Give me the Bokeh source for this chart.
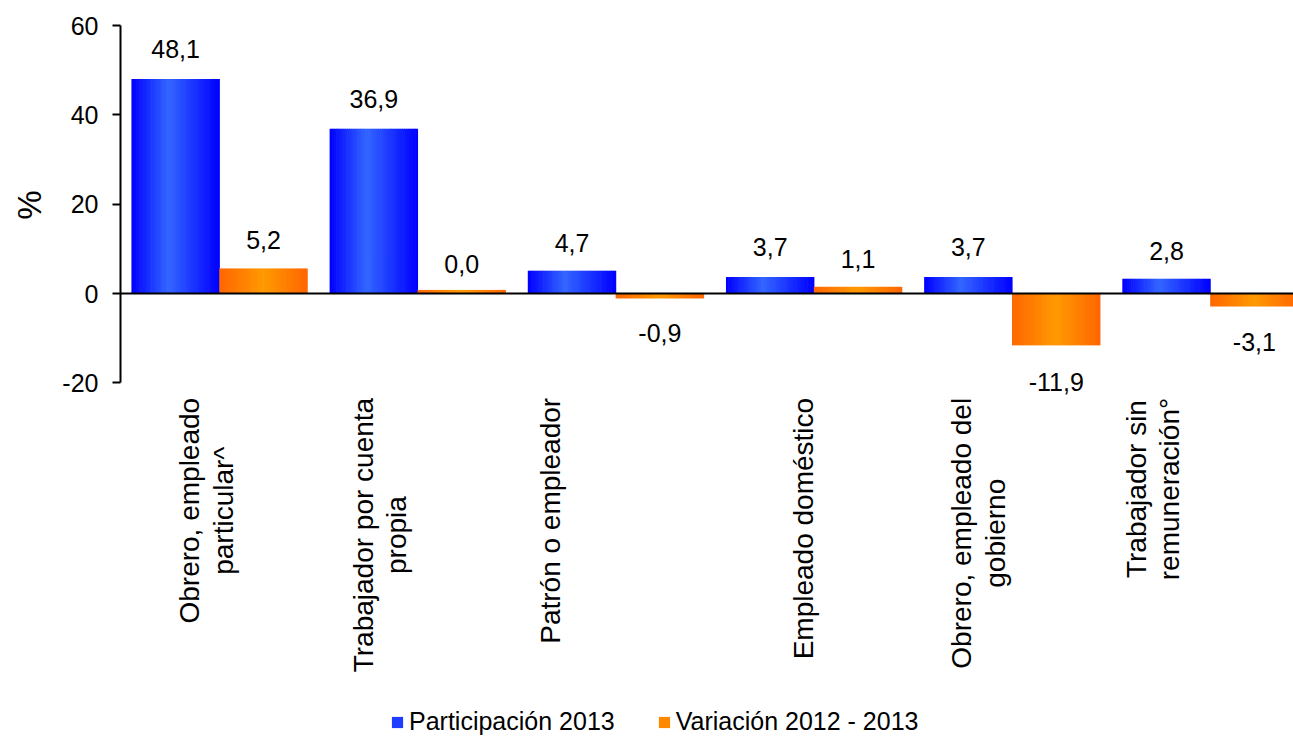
import math
from bokeh.plotting import figure
from bokeh.models import (ColumnDataSource, Range1d, FixedTicker, Span, LabelSet,
                          Legend, LegendItem, Title)
from bokeh.embed import file_html
from bokeh.resources import INLINE
from bokeh.core.properties import value

# ---------------- data ----------------
categories = [
    "Obrero, empleado\nparticular^",
    "Trabajador por cuenta\npropia",
    "Patrón o empleador",
    "Empleado doméstico",
    "Obrero, empleado del\ngobierno",
    "Trabajador sin\nremuneración°",
]
series_names = ["Participación 2013", "Variación 2012 - 2013"]
# values printed as data labels
participacion = [48.1, 36.9, 4.7, 3.7, 3.7, 2.8]
variacion = [5.2, 0.0, -0.9, 1.1, -11.9, -3.1]
# bar heights as drawn in the picture
participacion_bar = [48.0, 36.9, 5.1, 3.7, 3.7, 3.3]
variacion_bar = [5.6, 0.8, -1.1, 1.5, -11.6, -2.9]
y_ticks = [-20, 0, 20, 40, 60]
y_tick_labels = ["-20", "0", "20", "40", "60"]
y_axis_bounds = (-20, 60)
y_axis_title = "%"

# ---------------- layout / style ----------------
FONT = "Liberation Sans"
W, H = 1293, 737
BAR_W = 0.443
OFFS = [-0.2217, 0.2217]
X_END = 5.419
Y_START = -99.4          # frame extends below the axis for the category texts
LABEL_SHIFT = [-0.065, -0.19, -0.33, -0.054, -0.17, -0.29]
NSTRIP = 40


def fmt(v):
    return f"{v:.1f}".replace(".", ",")


def strip_source(vals, off, c_edge, c_peak, peak):
    xs, tops, cols = [], [], []
    for i, v in enumerate(vals):
        for k in range(NSTRIP):
            t = (k + 0.5) / NSTRIP
            half = peak if t < peak else 1 - peak
            f = max(0.0, 1 - abs(t - peak) / half)
            col = tuple(int(round(e + (p - e) * f)) for e, p in zip(c_edge, c_peak))
            xs.append(i + off - BAR_W / 2 + (k + 0.5) * BAR_W / NSTRIP)
            tops.append(v)
            cols.append("#%02x%02x%02x" % col)
    return ColumnDataSource(dict(x=xs, top=tops, color=cols))


p = figure(width=W, height=H, output_backend="svg", toolbar_location=None,
           x_range=Range1d(-0.5, X_END), y_range=Range1d(Y_START, 60),
           x_axis_location=None,
           min_border_left=118, min_border_right=0, min_border_top=25,
           min_border_bottom=0)
p.outline_line_color = None
p.xgrid.visible = False
p.ygrid.visible = False
p.background_fill_color = "white"
p.border_fill_color = "white"

src_b = strip_source(participacion_bar, OFFS[0], (0, 0, 255), (51, 102, 255), 0.42)
src_o = strip_source(variacion_bar, OFFS[1], (255, 102, 0), (255, 153, 0), 0.5)
sw = BAR_W / NSTRIP
rb = p.vbar(x="x", top="top", bottom=0, width=sw * 1.3, source=src_b,
            fill_color="color", line_color=None)
ro = p.vbar(x="x", top="top", bottom=0, width=sw * 1.3, source=src_o,
            fill_color="color", line_color=None)

p.add_layout(Span(location=0, dimension="width", line_color="black", line_width=2))

# data labels
lx, ly, lt, lo = [], [], [], []
for s, vals in enumerate([participacion, variacion]):
    for i, v in enumerate(vals):
        lx.append(i + OFFS[s])
        ly.append(v)
        lt.append(fmt(v))
        lo.append(21 if v >= 0 else -44)
labels = LabelSet(x="x", y="y", text="t", y_offset="o",
                  source=ColumnDataSource(dict(x=lx, y=ly, t=lt, o=lo)),
                  text_align="center", text_baseline="alphabetic",
                  text_font=value(FONT), text_font_size=value("25px"),
                  text_color="black")
p.add_layout(labels)

# category texts under the axis
label_pos = [i + s for i, s in enumerate(LABEL_SHIFT)]
p.text(x=label_pos, y=[y_axis_bounds[0]] * len(categories), text=categories,
       angle=math.pi / 2, anchor="center_right", text_align="center",
       y_offset=15, text_font=value(FONT), text_font_size=value("28px"),
       text_line_height=1.08, text_color="black")

# y axis
p.yaxis.ticker = FixedTicker(ticks=y_ticks)
p.yaxis.major_label_overrides = dict(zip(y_ticks, y_tick_labels))
p.yaxis.bounds = y_axis_bounds
p.yaxis.major_label_text_font = FONT
p.yaxis.major_label_text_font_size = "25px"
p.yaxis.major_label_text_color = "black"
p.yaxis.major_label_standoff = 14
p.yaxis.axis_line_color = "black"
p.yaxis.axis_line_width = 2
p.yaxis.major_tick_line_color = "black"
p.yaxis.major_tick_line_width = 2
p.yaxis.major_tick_out = 8
p.yaxis.major_tick_in = 0
p.yaxis.minor_tick_line_color = None

# "%" title beside the y axis, placed over the -20..60 part of the axis
p.add_layout(Title(text=y_axis_title, align="right", offset=165, standoff=20,
                   vertical_align="top", text_font=FONT,
                   text_font_size="33px", text_font_style="normal",
                   text_color="black"), "left")

legend = Legend(items=[LegendItem(label=series_names[0], renderers=[rb], index=NSTRIP // 2 + 6),
                       LegendItem(label=series_names[1], renderers=[ro], index=NSTRIP // 2 + 6)],
                orientation="horizontal", location=(270, 1),
                label_text_font=FONT, label_text_font_size="25px",
                label_text_color="black",
                glyph_width=14, glyph_height=14, label_standoff=5, spacing=42,
                padding=0, margin=0, border_line_color=None,
                background_fill_alpha=0)
p.add_layout(legend)

open("out.html", "w").write(file_html(p, INLINE))
